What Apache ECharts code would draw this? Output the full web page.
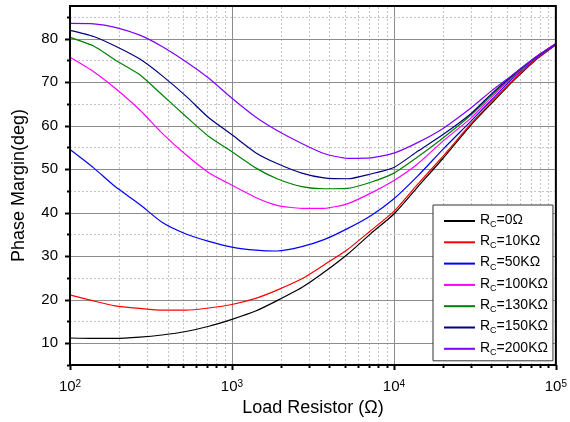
<!DOCTYPE html>
<html lang="en">
<head>
    <meta charset="UTF-8">
    <title>Phase Margin vs Load Resistor</title>
    <script src="https://cdn.jsdelivr.net/npm/echarts@6/dist/echarts.min.js"></script>
    <style>
        html, body { margin: 0; padding: 0; background: #fff; }
    </style>
</head>
<body>
<div id="main" style="width: 570px;height:422px;"></div>
<script>
    // load resistor values (ohm) where the curves were read
    var resistance = [100, 140, 190, 270, 370, 520, 720, 1000, 1400, 1900, 2700, 3700, 5200, 7200,
        10000, 14000, 20000, 30000, 40000, 55000, 75000, 100000];

    // phase margin (deg), one array per Rc
    var pm0 = [11.2, 11.1, 11.1, 11.4, 11.9, 12.7, 13.9, 15.5, 17.4, 19.8, 22.8, 26.3, 30.5, 35.2,
        39.7, 45.9, 52.4, 60.2, 65.1, 70.4, 75.1, 78.6];
    var pm10k = [21.1, 19.7, 18.6, 18.0, 17.6, 17.6, 18.1, 18.9, 20.3, 22.2, 24.8, 28.0, 31.6, 35.9,
        40.3, 46.5, 52.9, 60.5, 65.4, 70.6, 75.2, 78.6];
    var pm50k = [54.5, 50.3, 46.0, 41.9, 37.8, 35.1, 33.4, 32.1, 31.4, 31.2, 32.2, 33.8, 36.4, 39.3,
        43.2, 48.4, 54.5, 61.1, 65.9, 71.1, 75.4, 78.7];
    var pm100k = [75.7, 72.4, 68.6, 63.6, 58.3, 53.3, 49.2, 46.3, 43.5, 41.7, 41.0, 41.0, 42.1, 44.5,
        47.4, 51.2, 56.4, 61.8, 66.5, 71.4, 75.5, 78.7];
    var pm130k = [80.3, 78.3, 75.1, 71.7, 67.1, 62.1, 57.5, 54.0, 50.3, 47.8, 46.0, 45.5, 45.6, 47.0,
        49.1, 52.8, 57.1, 62.5, 67.0, 71.6, 75.6, 78.8];
    var pm150k = [81.9, 80.5, 78.3, 75.3, 71.5, 66.8, 61.8, 57.9, 53.8, 51.3, 49.1, 48.0, 47.8, 48.9,
        50.4, 54.1, 57.9, 62.8, 67.3, 71.8, 75.7, 78.8];
    var pm200k = [83.5, 83.4, 82.6, 80.8, 78.2, 74.7, 70.9, 66.3, 62.0, 58.9, 55.9, 53.6, 52.5, 52.6,
        53.7, 56.1, 59.3, 64.1, 68.0, 71.9, 75.8, 78.9];

    var rcLabels = ['0Ω', '10KΩ', '50KΩ', '100KΩ', '130KΩ', '150KΩ', '200KΩ'];
    var rcData = [pm0, pm10k, pm50k, pm100k, pm130k, pm150k, pm200k];
    var rcColors = ['#000000', '#ff0000', '#0000ff', '#ff00ff', '#008000', '#000080', '#8000ff'];

    // axis ticks / grid
    var yMajor = [10, 20, 30, 40, 50, 60, 70, 80];
    var yMinor = [5, 15, 25, 35, 45, 55, 65, 75, 85];
    var xMajor = [100, 1000, 10000, 100000];
    var xMinor = [200, 300, 400, 500, 600, 700, 800, 900,
        2000, 3000, 4000, 5000, 6000, 7000, 8000, 9000,
        20000, 30000, 40000, 50000, 60000, 70000, 80000, 90000];

    var yMin = 5, yMax = 87.5, xMin = 100, xMax = 100000;
    var font = 'Liberation Sans, Arial, sans-serif';

    var marks = [];
    xMajor.forEach(function (v) { marks.push({dir: 'x', v: v, major: true}); });
    xMinor.forEach(function (v) { marks.push({dir: 'x', v: v, major: false}); });
    yMajor.forEach(function (v) { marks.push({dir: 'y', v: v, major: true}); });
    yMinor.forEach(function (v) { marks.push({dir: 'y', v: v, major: false}); });

    function renderMark(params, api) {
        var m = marks[params.dataIndex];
        var kids = [];
        var lineStyle = m.major
            ? {stroke: '#8c8c8c', lineWidth: 1}
            : {stroke: '#c4c4c4', lineWidth: 1, lineDash: [2, 2]};
        var tickLen = m.major ? 5 : 3;
        if (m.dir === 'x') {
            var a = api.coord([m.v, yMin]);
            var b = api.coord([m.v, yMax]);
            var x = Math.round(a[0]) + 0.5;
            if (m.v > xMin && m.v < xMax) {
                kids.push({type: 'line', shape: {x1: x, y1: a[1], x2: x, y2: b[1]}, style: lineStyle});
            }
            kids.push({type: 'line', shape: {x1: x, y1: a[1], x2: x, y2: a[1] + tickLen},
                style: {stroke: '#000', lineWidth: 2}});
        } else {
            var c = api.coord([xMin, m.v]);
            var d = api.coord([xMax, m.v]);
            var y = Math.round(c[1]) + 0.5;
            if (m.v > yMin && m.v < yMax) {
                kids.push({type: 'line', shape: {x1: c[0], y1: y, x2: d[0], y2: y}, style: lineStyle});
            }
            kids.push({type: 'line', shape: {x1: c[0] - tickLen, y1: y, x2: c[0], y2: y},
                style: {stroke: '#000', lineWidth: 2}});
        }
        return {type: 'group', children: kids};
    }

    var series = [{
        type: 'custom',
        name: 'grid',
        silent: true,
        z: 1,
        renderItem: renderMark,
        data: marks.map(function (m) { return m.dir === 'x' ? [m.v, yMin] : [xMin, m.v]; })
    }];
    rcLabels.forEach(function (lab, i) {
        series.push({
            name: lab,
            type: 'line',
            z: 3,
            symbol: 'none',
            smooth: 0.2,
            color: rcColors[i],
            lineStyle: {width: 1.2, color: rcColors[i]},
            data: resistance.map(function (r, j) { return [r, rcData[i][j]]; })
        });
    });

    var myChart = echarts.init(document.getElementById('main'));
    var option = {
        animation: false,
        backgroundColor: '#fff',
        grid: {
            left: 70, right: 12, top: 6, bottom: 57,
            show: true, borderColor: '#000', borderWidth: 2, backgroundColor: 'transparent',
            z: 5
        },
        legend: {
            data: rcLabels,
            orient: 'vertical',
            left: 433,
            top: 205,
            padding: [4, 5, 4, 11],
            itemGap: 1.3,
            itemWidth: 31,
            itemHeight: 2,
            icon: 'rect',
            backgroundColor: '#fff',
            borderColor: '#333',
            borderWidth: 1,
            borderRadius: 0,
            formatter: function (name) {
                return '{r|R}{sub|C}{r|=' + name + '}';
            },
            textStyle: {
                fontFamily: font,
                color: '#000',
                rich: {
                    r: {fontFamily: font, fontSize: 14, lineHeight: 16, verticalAlign: 'top', color: '#000'},
                    sub: {fontFamily: font, fontSize: 9, lineHeight: 9, padding: [11, 0, 0, 0],
                        verticalAlign: 'bottom', color: '#000'}
                }
            }
        },
        xAxis: {
            type: 'log',
            logBase: 10,
            min: xMin,
            max: xMax,
            name: 'Load Resistor (Ω)',
            nameLocation: 'middle',
            nameGap: 31,
            nameTextStyle: {fontFamily: font, fontSize: 18, color: '#000'},
            axisLine: {show: false},
            axisTick: {show: false},
            splitLine: {show: false},
            axisLabel: {
                margin: 14,
                fontFamily: font,
                fontSize: 15,
                color: '#000',
                formatter: function (v) {
                    return '10{e|' + Math.round(Math.log10(v)) + '}';
                },
                rich: {
                    e: {fontFamily: font, fontSize: 10, verticalAlign: 'top', lineHeight: 10, color: '#000'}
                }
            }
        },
        yAxis: {
            type: 'value',
            min: yMin,
            max: yMax,
            interval: 5,
            name: 'Phase Margin(deg)',
            nameLocation: 'middle',
            nameGap: 42,
            nameTextStyle: {fontFamily: font, fontSize: 18, color: '#000'},
            axisLine: {show: false},
            axisTick: {show: false},
            splitLine: {show: false},
            axisLabel: {
                margin: 12,
                fontFamily: font,
                fontSize: 15,
                color: '#000',
                formatter: function (v) {
                    return (v % 10 === 0 && v <= 80) ? String(v) : '';
                }
            }
        },
        series: series
    };

    myChart.setOption(option);
</script>
</body>
</html>
